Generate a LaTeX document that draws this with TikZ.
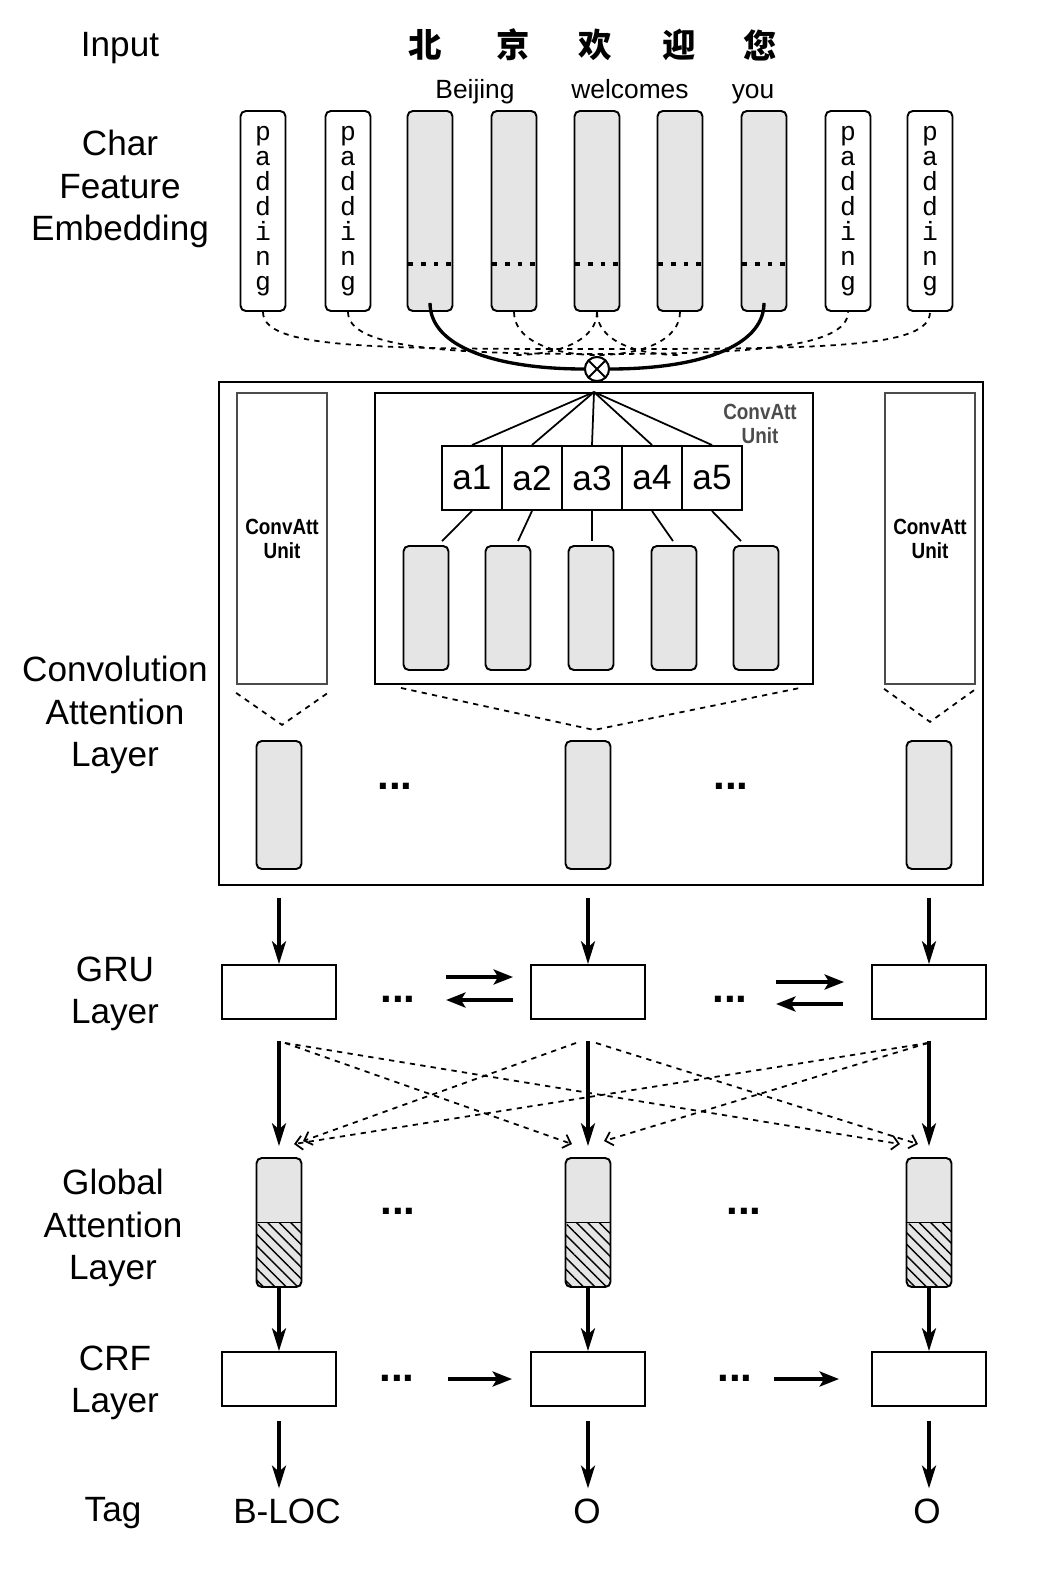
\documentclass[tikz,border=0pt]{standalone}
\usepackage{fontspec}
\setmainfont{Liberation Sans}
\setmonofont{Liberation Mono}
\newfontfamily\cjk{Noto Sans CJK SC}
\newfontfamily\narrow[FakeStretch=0.86]{Liberation Sans}
\usetikzlibrary{arrows.meta,calc,patterns.meta}

\newdimen\px
\px=0.02cm

\begin{document}
\begin{tikzpicture}[x=0.02cm, y=-0.02cm]
% ---------------------------------------------------------
% Grid (pixel units, y grows downward)
% ---------------------------------------------------------
\def\XA{279}     % first output column
\def\XB{588}     % middle output column
\def\XC{929}     % last output column
\def\VecW{45}    % width of a vector bar
\def\BoxW{114}   % width of GRU / CRF boxes

% ---------------------------------------------------------
% Styles
% ---------------------------------------------------------
\tikzset{
  layer label/.style={font=\fontsize{20}{24}\selectfont, align=center},
  word/.style={font=\fontsize{15}{18}\selectfont, anchor=base},
  hanzi/.style={font=\cjk\bfseries\fontsize{19}{22}\selectfont},
  emb box/.style={draw, line width=1.1pt, rounded corners=3pt,
    minimum width=\VecW\px, minimum height=200\px, inner sep=0pt},
  pad box/.style={emb box, fill=white, align=center,
    font=\ttfamily\fontsize{15}{14.2}\selectfont},
  feat box/.style={emb box, fill=gray!20},
  feat dots/.style={line width=2.2pt, dash pattern=on 2.6pt off 4.6pt},
  vec box/.style={draw, line width=1.1pt, rounded corners=3pt, fill=gray!20,
    minimum width=\VecW\px, inner sep=0pt},
  att box/.style={vec box, minimum height=129\px,
    path picture={
      \fill[pattern={Lines[angle=-45,distance=4.6pt,line width=0.8pt]}]
        (path picture bounding box.west) rectangle (path picture bounding box.south east);
      \draw[line width=1.1pt]
        (path picture bounding box.west) -- (path picture bounding box.east);}},
  unit box/.style={draw=black!70, line width=1pt, minimum width=90\px,
    minimum height=291\px, inner sep=0pt},
  unit text/.style={font=\narrow\bfseries\fontsize{12.5}{13.7}\selectfont, align=center},
  cell/.style={draw, line width=1.1pt, minimum width=60\px, minimum height=64\px,
    inner sep=0pt, font=\fontsize{20}{24}\selectfont},
  plain box/.style={draw, line width=1.1pt, minimum width=\BoxW\px,
    minimum height=54\px, inner sep=0pt},
  otimes/.style={circle, draw, line width=1.1pt, fill=white, minimum size=24\px,
    inner sep=0pt, path picture={
      \draw[line width=1.1pt] (path picture bounding box.north west) -- (path picture bounding box.south east)
        (path picture bounding box.north east) -- (path picture bounding box.south west);}},
  link/.style={dashed, line width=1pt},
  mix line/.style={line width=1.9pt},
  fan/.style={line width=1pt},
  dots/.style={font=\bfseries\fontsize{24}{24}\selectfont},
  down arrow/.style={-{Stealth[length=13pt,width=8pt,inset=3.5pt]}, line width=1.9pt},
  side arrow/.style={-{Stealth[length=11pt,width=8.5pt,inset=2.5pt]}, line width=2.7pt},
  cross arrow/.style={-{Straight Barb[length=4pt,width=8pt]}, dashed, line width=1pt},
}

\useasboundingbox (0,0) rectangle (1046,1572);

% =========================================================
% 1) LAYER LABELS (left margin)
% =========================================================
\node[layer label] (lab-in)   at (120,48)   {Input};
\node[layer label] (lab-emb)  at (120,189)  {Char\\Feature\\Embedding};
\node[layer label] (lab-conv) at (115,715)  {Convolution\\Attention\\Layer};
\node[layer label] (lab-gru)  at (115,994)  {GRU\\Layer};
\node[layer label] (lab-glob) at (113,1228) {Global\\Attention\\Layer};
\node[layer label] (lab-crf)  at (115,1383) {CRF\\Layer};
\node[layer label] (lab-tag)  at (113,1513) {Tag};

% =========================================================
% 2) INPUT SENTENCE
% =========================================================
\foreach \c/\x [count=\i] in {北/425, 京/513, 欢/595, 迎/679, 您/760}
  \node[hanzi] (han\i) at (\x,45) {\c};

\node[word] (w1) at (475,98) {Beijing};
\node[word] (w2) at (630,98) {welcomes};
\node[word] (w3) at (753,98) {you};

% =========================================================
% 3) CHAR FEATURE EMBEDDING
% =========================================================
\foreach \x/\n in {263/1, 348/2, 848/8, 930/9}
  \node[pad box] (emb\n) at (\x,211) {p\\a\\d\\d\\i\\n\\g};

\foreach \x/\n in {430/3, 514/4, 597/5, 680/6, 764/7} {
  \node[feat box] (emb\n) at (\x,211) {};
  \draw[feat dots] ([xshift=1pt,yshift=-154\px]emb\n.north west)
    -- ([yshift=-154\px]emb\n.north east);
}

% combination node
\node[otimes] (mix) at (597,369) {};

% dashed window links
\draw[link] (emb1.south) .. controls +(0,36) and +(-230,0) .. (597,349)
  .. controls +(230,0) and +(0,36) .. (emb9.south);
\draw[link] (emb2.south) .. controls +(0,36) and +(-150,0) .. (597,354)
  .. controls +(150,0) and +(0,36) .. (emb8.south);
\draw[link] (emb4.south) .. controls +(0,28) and +(-45,0) .. (597,355);
\draw[link] (emb6.south) .. controls +(0,28) and +(45,0) .. (597,355);
\draw[link] (emb5.south) .. controls +(0,28) and +(45,0) .. (514,355);
\draw[link] (emb5.south) .. controls +(0,28) and +(-45,0) .. (680,355);

% solid links of the current window
\draw[mix line] ([yshift=9\px]emb3.south) .. controls +(0,45) and +(-85,0) .. (mix.west);
\draw[mix line] ([yshift=9\px]emb7.south) .. controls +(0,45) and +(85,0) .. (mix.east);

% =========================================================
% 4) CONVOLUTION ATTENTION LAYER
% =========================================================
\node[draw, line width=1.1pt, minimum width=764\px, minimum height=503\px,
  inner sep=0pt] (conv) at (601,633.5) {};
\node[mix line, otimes] at (mix) {};

% side units (collapsed)
\node[unit box] (unit-l) at (282,538.5) {};
\node[unit text] at (unit-l) {ConvAtt\\Unit};
\node[unit box] (unit-r) at (930,538.5) {};
\node[unit text] at (unit-r) {ConvAtt\\Unit};

% middle unit (expanded)
\node[draw, line width=1.1pt, minimum width=438\px, minimum height=291\px,
  inner sep=0pt] (unit-m) at (594,538.5) {};
\node[unit text, text=black!70] at (760,424) {ConvAtt\\Unit};

\foreach \i in {1,...,5}
  \node[cell] (a\i) at ({472+60*(\i-1)},478) {a\i};

\foreach \i in {1,...,5}
  \draw[fan] (unit-m.north) -- (a\i.north);

\foreach \x/\dx [count=\i] in {426/16, 508/10, 591/1, 674/-1, 756/-15} {
  \node[vec box, minimum height=124\px] (v\i) at (\x,608) {};
  \draw[fan] (a\i.south) -- ($(v\i.north)+(\dx,-4)$);
}

% pooling guides
\draw[link] ([yshift=-8\px]unit-l.south west) -- ([yshift=-40\px]unit-l.south)
  -- ([yshift=-8\px]unit-l.south east);
\draw[link] ([xshift=27\px,yshift=-3\px]unit-m.south west) -- ([yshift=-45\px]unit-m.south)
  -- ([xshift=-14\px,yshift=-3\px]unit-m.south east);
\draw[link] ([yshift=-4\px]unit-r.south west) -- ([yshift=-37\px]unit-r.south)
  -- ([yshift=-4\px]unit-r.south east);

% conv outputs
\node[vec box, minimum height=128\px] (c1) at (\XA,805) {};
\node[vec box, minimum height=128\px] (c2) at (\XB,805) {};
\node[vec box, minimum height=128\px] (c3) at (\XC,805) {};
\node[dots] (cd1) at (395,786) {...};
\node[dots] (cd2) at (731,786) {...};

% =========================================================
% 5) GRU LAYER
% =========================================================
\foreach \x [count=\i] in {\XA,\XB,\XC} {
  \node[plain box] (gru\i) at (\x,992) {};
  \draw[down arrow] ([yshift=-12\px]conv.south -| gru\i) -- (gru\i.north);
}
\node[dots] (gd1) at (398,999) {...};
\node[dots] (gd2) at (730,999) {...};

\draw[side arrow] ($(gru2.west)+(-84,-15)$) -- ($(gru2.west)+(-17,-15)$);
\draw[side arrow] ($(gru2.west)+(-17,8)$) -- ($(gru2.west)+(-84,8)$);
\draw[side arrow] ($(gru3.west)+(-95,-10)$) -- ($(gru3.west)+(-27,-10)$);
\draw[side arrow] ($(gru3.west)+(-28,12)$) -- ($(gru3.west)+(-95,12)$);

% =========================================================
% 6) GLOBAL ATTENTION LAYER
% =========================================================
\foreach \x [count=\i] in {\XA,\XB,\XC} {
  \node[att box] (att\i) at (\x,1222.5) {};
  \draw[down arrow] ([yshift=-21\px]gru\i.south) -- ([yshift=11\px]att\i.north);
}

% attention sources and targets
\coordinate (s1)  at ([xshift=6\px,yshift=-23\px]gru1.south);
\coordinate (s2l) at ([xshift=-12\px,yshift=-23\px]gru2.south);
\coordinate (s2r) at ([xshift=8\px,yshift=-23\px]gru2.south);
\coordinate (s3)  at ([xshift=-1\px,yshift=-23\px]gru3.south);
\coordinate (t12) at ([xshift=24\px,yshift=16\px]att1.north);
\coordinate (t13) at ([xshift=15\px,yshift=13\px]att1.north);
\coordinate (t21) at ([xshift=-16\px,yshift=13\px]att2.north);
\coordinate (t23) at ([xshift=16\px,yshift=16\px]att2.north);
\coordinate (t31) at ([xshift=-29\px,yshift=13\px]att3.north);
\coordinate (t32) at ([xshift=-11\px,yshift=13\px]att3.north);

\draw[cross arrow] (s1)  -- (t21);
\draw[cross arrow] (s1)  -- (t31);
\draw[cross arrow] (s2l) -- (t12);
\draw[cross arrow] (s2r) -- (t32);
\draw[cross arrow] (s3)  -- (t13);
\draw[cross arrow] (s3)  -- (t23);

\node[dots] (ad1) at (398,1211) {...};
\node[dots] (ad2) at (744,1211) {...};

% =========================================================
% 7) CRF LAYER AND TAGS
% =========================================================
\foreach \x [count=\i] in {\XA,\XB,\XC} {
  \node[plain box] (crf\i) at (\x,1379) {};
  \draw[down arrow] (att\i.south) -- (crf\i.north);
}
\node[dots] (fd1) at (397,1378) {...};
\node[dots] (fd2) at (735,1378) {...};

\draw[side arrow] ($(crf2.west)+(-82,0)$) -- ($(crf2.west)+(-18,0)$);
\draw[side arrow] ($(crf3.west)+(-97,0)$) -- ($(crf3.west)+(-32,0)$);

\node[layer label] (tag1) at (287,1511) {B-LOC};
\node[layer label] (tag2) at (587,1511) {O};
\node[layer label] (tag3) at (927,1511) {O};

\foreach \i in {1,2,3}
  \draw[down arrow] ([yshift=-14\px]crf\i.south) -- ([yshift=4\px]crf\i |- tag\i.north);

\end{tikzpicture}
\end{document}
